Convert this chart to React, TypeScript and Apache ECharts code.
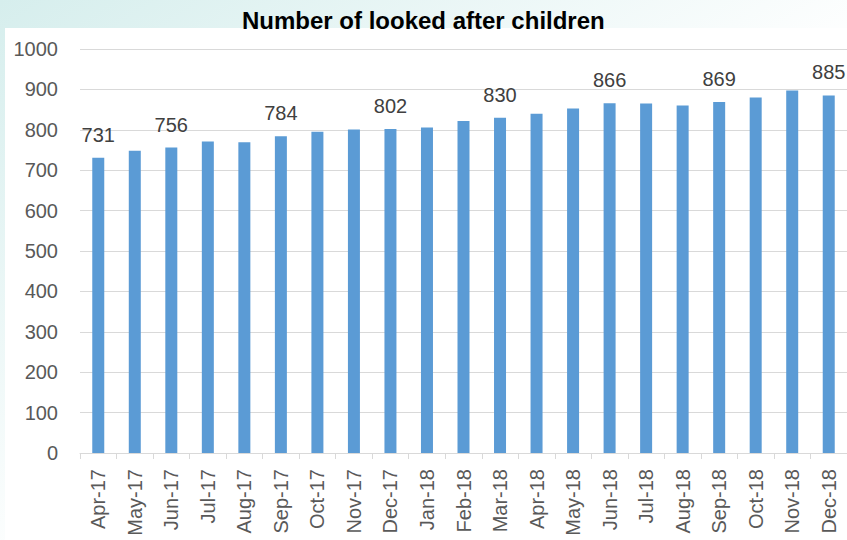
import React, { useEffect, useRef } from "react";
import * as echarts from "echarts";

const categories = [
  "Apr-17", "May-17", "Jun-17", "Jul-17", "Aug-17", "Sep-17", "Oct-17",
  "Nov-17", "Dec-17", "Jan-18", "Feb-18", "Mar-18", "Apr-18", "May-18",
  "Jun-18", "Jul-18", "Aug-18", "Sep-18", "Oct-18", "Nov-18", "Dec-18",
];
const values = [
  731, 748, 756, 771, 769, 784, 795,
  801, 802, 806, 822, 830, 840, 853,
  866, 865, 860, 869, 880, 897, 885,
];
const labelledIndices = [0, 2, 5, 8, 11, 14, 17, 20];
const yTicks = { min: 0, max: 1000, interval: 100 };
const titleText = "Number of looked after children";

const FONT = "'Liberation Sans', Arial, sans-serif";

export default function App() {
  const ref = useRef<HTMLDivElement>(null);
  useEffect(() => {
    if (!ref.current) return;
    const chart = echarts.init(ref.current, undefined, { renderer: "svg" });
    chart.setOption({
      animation: false,
      backgroundColor: "#ffffff",
      textStyle: { fontFamily: FONT },
      title: {
        text: titleText,
        left: 237,
        top: 3,
        textStyle: { fontFamily: FONT, fontSize: 24, fontWeight: "bold", color: "#000000" },
      },
      graphic: [
        {
          type: "rect",
          z: -10,
          silent: true,
          shape: { x: 0, y: 0, width: 847, height: 540 },
          style: {
            fill: new echarts.graphic.LinearGradient(0, 0, 1, 1, [
              { offset: 0, color: "#d6eeed" },
              { offset: 0.55, color: "#ffffff" },
              { offset: 1, color: "#ffffff" },
            ]),
          },
        },
        {
          type: "rect",
          z: -9,
          silent: true,
          shape: { x: 5, y: 28, width: 842, height: 512 },
          style: { fill: "#ffffff" },
        },
      ],
      grid: { left: 80, right: 0, top: 49, bottom: 87, containLabel: false },
      xAxis: {
        type: "category",
        data: categories,
        axisLine: { lineStyle: { color: "#d9d9d9", width: 1 } },
        axisTick: { show: true, length: 6, lineStyle: { color: "#d9d9d9" } },
        axisLabel: {
          rotate: 90,
          interval: 0,
          margin: 16,
          fontSize: 20,
          color: "#595959",
          fontFamily: FONT,
        },
      },
      yAxis: {
        type: "value",
        min: yTicks.min,
        max: yTicks.max,
        interval: yTicks.interval,
        axisLine: { show: false },
        axisTick: { show: false },
        splitLine: { lineStyle: { color: "#d9d9d9", width: 1 } },
        axisLabel: {
          fontSize: 20,
          color: "#595959",
          margin: 22,
          fontFamily: FONT,
          formatter: (v: number) => String(v),
        },
      },
      series: [
        {
          type: "bar",
          barWidth: 12,
          itemStyle: { color: "#5b9bd5" },
          data: values.map((v, i) => ({
            value: v,
            label: {
              show: labelledIndices.includes(i),
              position: "top",
              distance: 13,
              fontSize: 20,
              color: "#404040",
              fontFamily: FONT,
            },
          })),
        },
      ],
    });
    return () => chart.dispose();
  }, []);
  return (
    <div
      ref={ref}
      style={{ position: "fixed", left: 0, top: 0, width: 847, height: 540 }}
    />
  );
}
